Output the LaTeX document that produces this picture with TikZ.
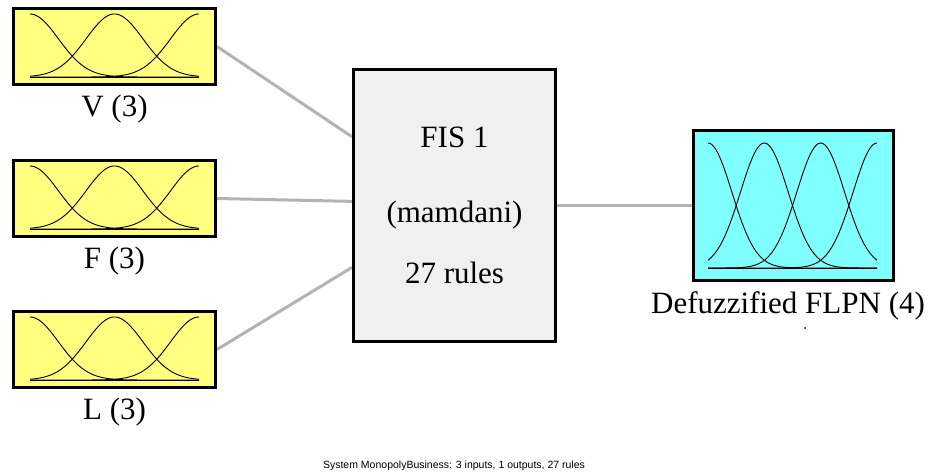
\documentclass[tikz,border=0pt]{standalone}
\usepackage{fontspec}
\setmainfont{Liberation Serif}
\newfontfamily\captionfont{Liberation Sans}
\usetikzlibrary{calc,backgrounds}

\definecolor{varfill}{HTML}{FFFF80}
\definecolor{outfill}{HTML}{80FFFF}
\definecolor{fisfill}{HTML}{F0F0F0}
\definecolor{linkgray}{HTML}{B3B3B3}

% Gaussian membership functions evenly spread between #1 and #2,
% peak at #3, base line at #4, #5 functions, width #6
\newcommand\gaussrow[6]{%
  \foreach \k in {1,...,#5}{%
    \pgfmathsetmacro\cen{(#1)+(\k-1)*((#2)-(#1))/(#5-1)}%
    \draw[mf] plot[domain=#1:#2,samples=90,smooth]
      (\x,{(#4)-((#4)-(#3))*exp(-0.5*((\x-\cen)/(#6))^2)});
  }%
  \draw[mf] (#1,#4) -- (#2,#4);%
}

\tikzset{
  mf/.style={black, line width=0.9pt},
  varbox/.style={draw=black, line width=3pt, fill=varfill,
    minimum width=202pt, minimum height=76pt, inner sep=0pt},
  fisbox/.style={draw=black, line width=3pt, fill=fisfill,
    minimum width=202pt, minimum height=272pt, inner sep=0pt},
  outbox/.style={draw=black, line width=3pt, fill=outfill,
    minimum width=200pt, minimum height=150pt, inner sep=0pt},
  link/.style={linkgray, line width=3pt},
  lbl/.style={font=\fontsize{31}{37}\selectfont, anchor=base, inner sep=0pt},
}

\begin{document}
\begin{tikzpicture}[x=1pt,y=-1pt]
  \useasboundingbox (0,0) rectangle (928,473);

  % input variables
  \node[varbox] (V) at (114.5,46.5) {};
  \node[varbox] (F) at (114.5,198.5) {};
  \node[varbox] (L) at (114.5,349.5) {};
  % inference system
  \node[fisbox] (FIS) at (454.5,205.5) {};
  % output variable
  \node[outbox] (OUT) at (793.5,205.5) {};

  % membership functions inside the variable boxes
  \foreach \n in {V,F,L}{
    \begin{scope}[shift={(\n.center)}]
      \gaussrow{-84.5}{84.5}{-32.5}{30.5}{3}{28.4}
    \end{scope}
  }
  \begin{scope}[shift={(OUT.center)}]
    \gaussrow{-85.5}{83.5}{-62.5}{62.5}{4}{23.9}
  \end{scope}

  % connections
  \begin{scope}[on background layer]
    \draw[link] (V.east) -- ($(FIS.north west)!0.25!(FIS.south west)$);
    \draw[link] (F.east) -- ($(FIS.north west)!0.485!(FIS.south west)$);
    \draw[link] (L.east) -- ($(FIS.north west)!0.725!(FIS.south west)$);
    \draw[link] (FIS.east) -- (OUT.west);
  \end{scope}

  % labels
  \node[lbl] (Vl) at (114.5,117) {V (3)};
  \node[lbl] (Fl) at (114.5,268) {F (3)};
  \node[lbl] (Ll) at (114.5,419) {L (3)};
  \node[lbl] (OUTl) at (788,313) {Defuzzified FLPN (4)};
  \node[lbl] (f1) at (454.5,148) {FIS 1};
  \node[lbl] (f2) at (454.5,222) {(mamdani)};
  \node[lbl] (f3) at (454.5,283) {27 rules};
  \fill (805,328) circle (1pt);

  \node[anchor=base, inner sep=0pt, font=\captionfont\fontsize{10.5}{12.5}\selectfont]
    (sys) at (454,468) {System MonopolyBusiness: 3 inputs, 1 outputs, 27 rules};
\end{tikzpicture}
\end{document}
